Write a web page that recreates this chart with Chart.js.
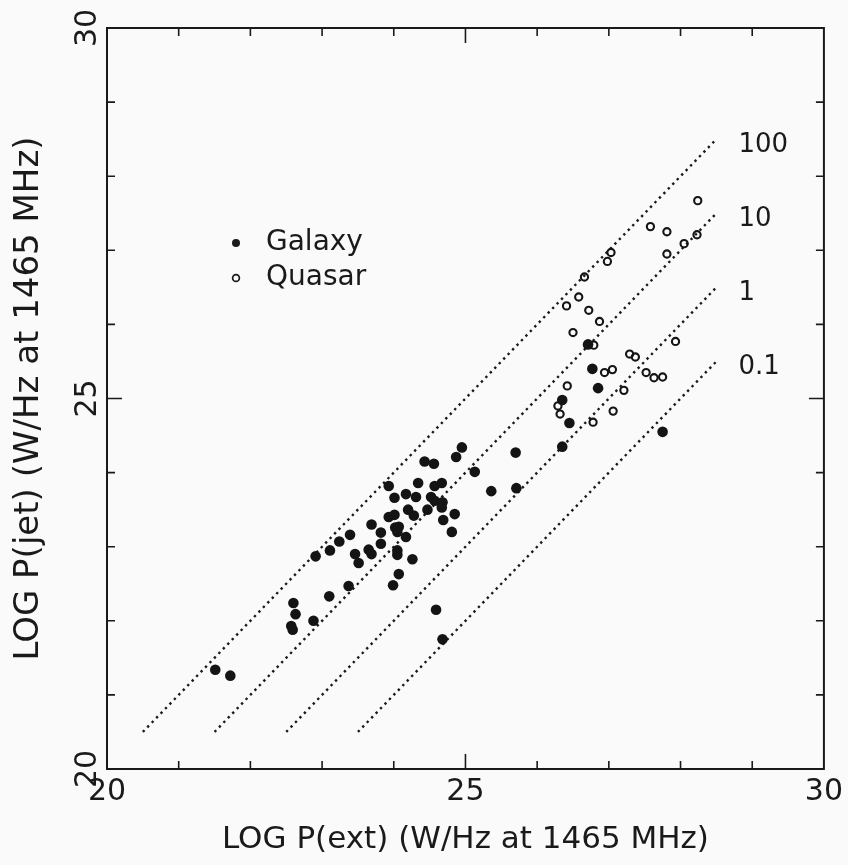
<!DOCTYPE html>
<html><head><meta charset="utf-8">
<script src="https://cdn.jsdelivr.net/npm/chart.js@4.4.1/dist/chart.umd.min.js"></script>
<style>html,body{margin:0;padding:0;background:#fafafa;}#wrap{width:848px;height:865px;}</style>
</head><body><div id="wrap"><canvas id="c" width="848" height="865"></canvas></div>
<script>
// ---- data ----
const galaxyX = [21.51,21.72,22.57,22.59,22.63,22.60,22.88,22.91,23.11,23.24,23.39,23.37,23.10,
  24.95,24.87,25.70,24.43,24.56,25.13,23.93,24.34,24.67,24.57,25.36,25.71,24.01,24.17,24.31,24.52,
  24.57,24.68,24.67,24.47,24.20,24.28,23.93,24.01,24.85,24.69,23.69,24.02,24.07,24.05,24.81,23.82,
  24.17,23.82,23.65,23.69,24.05,24.05,23.46,23.51,24.26,24.07,23.99,24.59,24.68,
  26.71,26.77,26.85,26.35,26.45,27.75,26.35];
const galaxyY = [21.34,21.26,21.93,21.88,22.09,22.24,22.00,22.87,22.95,23.07,23.16,22.47,22.33,
  24.34,24.21,24.27,24.15,24.12,24.01,23.82,23.86,23.86,23.82,23.75,23.79,23.66,23.71,23.67,23.67,
  23.62,23.60,23.53,23.50,23.50,23.42,23.40,23.43,23.44,23.36,23.30,23.26,23.27,23.20,23.20,23.19,
  23.13,23.04,22.96,22.90,22.95,22.89,22.90,22.78,22.83,22.63,22.48,22.15,21.75,
  25.73,25.40,25.14,24.98,24.67,24.55,24.35];
const quasarX = [28.24,27.58,27.81,28.23,28.05,27.81,27.03,26.98,26.66,26.58,26.41,26.72,26.87,26.50,
  26.79,27.93,27.29,27.37,26.94,27.05,27.52,27.63,27.75,26.42,27.21,26.29,26.32,27.06,26.78];
const quasarY = [27.67,27.32,27.25,27.21,27.09,26.95,26.97,26.85,26.64,26.37,26.25,26.19,26.04,25.89,
  25.72,25.77,25.60,25.56,25.35,25.39,25.35,25.28,25.29,25.17,25.11,24.90,24.79,24.83,24.68];
const ratioLabels = ['100','10','1','0.1'];
const ratioLineX = [[20.5,28.5],[21.5,28.5],[22.5,28.5],[23.5,28.5]];
const ratioLineY = [[20.5,28.5],[20.5,27.5],[20.5,26.5],[20.5,25.5]];
const xTickValues = [20,25,30];
const yTickValues = [20,25,30];
const legendLabels = ['Galaxy','Quasar'];
const xTitle = 'LOG P(ext) (W/Hz at 1465 MHz)';
const yTitle = 'LOG P(jet) (W/Hz at 1465 MHz)';

// ---- chart ----
const INK = '#1a1a1a';
const FONT = "'DejaVu Sans', sans-serif";
const zip = (xs, ys) => xs.map((x, i) => ({x, y: ys[i]}));

const lineSets = ratioLabels.map((lab, i) => ({
  label: lab, data: zip(ratioLineX[i], ratioLineY[i]), showLine: true,
  borderColor: INK, borderWidth: 2.4, borderDash: [2.4, 4], pointRadius: 0, order: 2
}));

const framePlugin = {
  id: 'frame',
  afterDatasetsDraw(chart) {
    const {ctx, chartArea: a, scales: {x, y}} = chart;
    ctx.save();
    ctx.strokeStyle = INK; ctx.lineWidth = 2;
    ctx.strokeRect(a.left, a.top, a.right - a.left, a.bottom - a.top);
    ctx.lineWidth = 1.6;
    for (let v = 21; v <= 29; v++) {
      const len = v === 25 ? 15 : 8;
      const px = x.getPixelForValue(v), py = y.getPixelForValue(v);
      ctx.beginPath();
      ctx.moveTo(px, a.bottom); ctx.lineTo(px, a.bottom - len);
      ctx.moveTo(px, a.top); ctx.lineTo(px, a.top + len);
      ctx.moveTo(a.left, py); ctx.lineTo(a.left + len, py);
      ctx.moveTo(a.right, py); ctx.lineTo(a.right - len, py);
      ctx.stroke();
    }
    // ratio labels
    ctx.fillStyle = INK; ctx.font = '26px ' + FONT;
    ctx.textAlign = 'left'; ctx.textBaseline = 'middle';
    ratioLabels.forEach((lab, i) => {
      ctx.fillText(lab, x.getPixelForValue(ratioLineX[i][1]) + 22, y.getPixelForValue(ratioLineY[i][1]) + 6);
    });
    // legend
    const lx = a.left + 129, ly = a.top + 215;
    ctx.beginPath(); ctx.arc(lx, ly, 4, 0, Math.PI * 2); ctx.fill();
    ctx.beginPath(); ctx.lineWidth = 1.7; ctx.arc(lx, ly + 35, 3.4, 0, Math.PI * 2); ctx.stroke();
    ctx.font = '28px ' + FONT;
    ctx.fillText(legendLabels[0], lx + 30, ly);
    ctx.fillText(legendLabels[1], lx + 30, ly + 35);
    ctx.restore();
  }
};

new Chart(document.getElementById('c'), {
  type: 'scatter',
  data: {
    datasets: [
      {label: legendLabels[0], data: zip(galaxyX, galaxyY), pointRadius: 5.3, pointBorderWidth: 0,
       backgroundColor: '#141414', borderColor: '#141414', order: 1},
      {label: legendLabels[1], data: zip(quasarX, quasarY), pointRadius: 3.6, pointBorderWidth: 2.1,
       backgroundColor: 'rgba(0,0,0,0)', borderColor: '#141414', order: 1},
      ...lineSets
    ]
  },
  options: {
    responsive: false, animation: false, devicePixelRatio: 1,
    layout: {padding: {top: 28, right: 21, bottom: 0, left: 0}},
    plugins: {legend: {display: false}, tooltip: {enabled: false}},
    scales: {
      x: {
        type: 'linear', min: 20, max: 30, position: 'bottom',
        afterBuildTicks: s => { s.ticks = xTickValues.map(v => ({value: v})); },
        afterFit: s => { s.height = 96; },
        grid: {display: false, drawTicks: false}, border: {display: false},
        ticks: {color: INK, font: {family: FONT, size: 30}, padding: 5, maxRotation: 0, autoSkip: false},
        title: {display: true, text: xTitle, color: INK, font: {family: FONT, size: 31}, padding: {top: 0, bottom: 6}}
      },
      y: {
        type: 'linear', min: 20, max: 30, position: 'left',
        afterBuildTicks: s => { s.ticks = yTickValues.map(v => ({value: v})); },
        afterFit: s => { s.width = 107; },
        grid: {display: false, drawTicks: false}, border: {display: false},
        ticks: {color: INK, font: {family: FONT, size: 30}, padding: 0, minRotation: 90, maxRotation: 90,
                crossAlign: 'center', autoSkip: false},
        title: {display: true, text: yTitle, color: INK, font: {family: FONT, size: 34}, padding: {top: 9, bottom: 0}}
      }
    }
  },
  plugins: [framePlugin]
});
</script></body></html>
